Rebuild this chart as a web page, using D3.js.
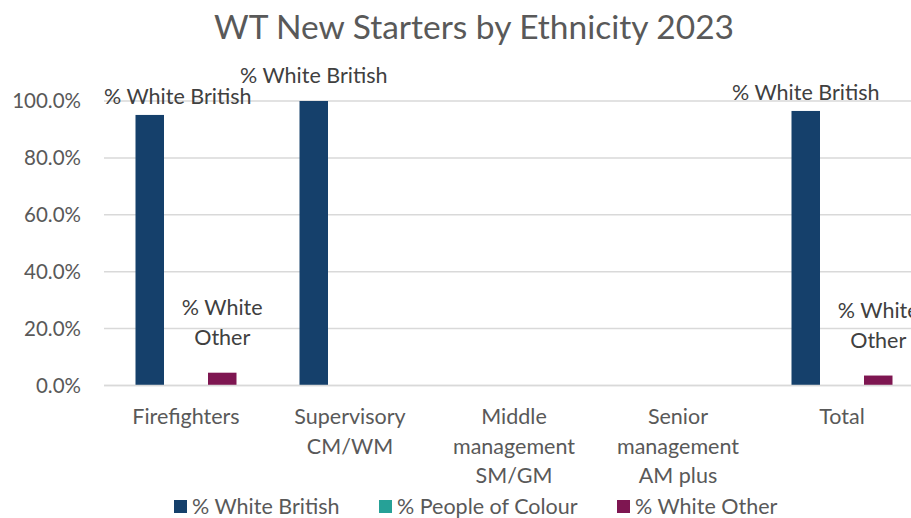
<!DOCTYPE html>
<html>
<head>
<meta charset="utf-8">
<script src="https://cdn.jsdelivr.net/npm/d3@7"></script>
<style>
  html, body { margin: 0; padding: 0; background: #fff; }
  svg { display: block; font-family: Lato, "Open Sans", sans-serif; }
</style>
</head>
<body>
<svg id="chart" width="911" height="518"></svg>
<script>
// Categories (wrapped onto lines as shown under the axis)
const categories = ["Firefighters", "Supervisory CM/WM", "Middle management SM/GM", "Senior management AM plus", "Total"];
const categoryLines = [["Firefighters"], ["Supervisory", "CM/WM"], ["Middle", "management", "SM/GM"], ["Senior", "management", "AM plus"], ["Total"]];

// Series (share of new starters); null = no starters in that group
const seriesNames = ["% White British", "% People of Colour", "% White Other"];
const whiteBritish   = [0.951, 1.000, null, null, 0.965];
const peopleOfColour = [0.000, 0.000, null, null, 0.000];
const whiteOther     = [0.045, 0.000, null, null, 0.035];
const seriesColors = ["#15406B", "#26A197", "#7E1651"];

const yTicks = [0, 0.2, 0.4, 0.6, 0.8, 1.0];
const title = "WT New Starters by Ethnicity 2023";

const seriesValues = [whiteBritish, peopleOfColour, whiteOther];

const svg = d3.select("#chart");
const plotLeft = 104, plotRight = 924, plotTop = 101, plotBottom = 385.5;

const x = d3.scaleBand().domain(categories).range([plotLeft, plotRight]).padding(0);
const xInner = d3.scaleBand().domain(seriesNames).range([-50.5, 50.5]).paddingInner(0.214);
const y = d3.scaleLinear().domain([0, 1]).range([plotBottom, plotTop]);

const textGrey = "#595959";
const labelGrey = "#404040";
const fs = 21.5;

// Title
svg.append("text")
  .attr("x", 474).attr("y", 39)
  .attr("text-anchor", "middle")
  .attr("font-size", 33.5).attr("fill", textGrey)
  .text(title);

// Gridlines
svg.append("g").selectAll("line").data(yTicks).join("line")
  .attr("x1", plotLeft).attr("x2", plotRight)
  .attr("y1", d => y(d)).attr("y2", d => y(d))
  .attr("stroke", "#D9D9D9").attr("stroke-width", 1.5);

// Y axis labels
const yAxis = d3.axisLeft(y).tickValues(yTicks).tickFormat(d3.format(".1%")).tickSize(0).tickPadding(0);
const gy = svg.append("g").attr("transform", "translate(81,0)").call(yAxis);
gy.select(".domain").remove();
gy.selectAll("text").attr("font-size", 20.5).attr("fill", textGrey).attr("font-family", "Lato, sans-serif");

// Bars
const barData = [];
categories.forEach((c, ci) => {
  seriesNames.forEach((s, si) => {
    const v = seriesValues[si][ci];
    if (v !== null) barData.push({ c, s, si, v });
  });
});

svg.append("g").selectAll("rect").data(barData).join("rect")
  .attr("x", d => x(d.c) + x.bandwidth() / 2 + xInner(d.s))
  .attr("width", xInner.bandwidth())
  .attr("y", d => y(d.v))
  .attr("height", d => plotBottom - y(d.v))
  .attr("fill", d => seriesColors[d.si]);

// Zero line drawn over bar bases
svg.append("line")
  .attr("x1", plotLeft).attr("x2", plotRight)
  .attr("y1", y(0)).attr("y2", y(0))
  .attr("stroke", "#D9D9D9").attr("stroke-width", 1.5);

// Data labels: series name above each non-zero bar
const labelGroup = svg.append("g").attr("font-size", fs).attr("fill", labelGrey);
barData.filter(d => d.v > 0).forEach(d => {
  const cx = x(d.c) + x.bandwidth() / 2 + xInner(d.s) + xInner.bandwidth() / 2;
  const top = y(d.v);
  if (d.si === 0) {
    const lift = d.v >= 1 ? 18 : 11;
    const t = labelGroup.append("text")
      .attr("x", cx).attr("y", top - lift)
      .attr("text-anchor", "middle")
      .text(d.s);
    const w = t.node().getComputedTextLength();
    if (cx - w / 2 < plotLeft) t.attr("x", plotLeft + w / 2);
  } else {
    const words = d.s.split(" ");
    const lines = [words.slice(0, 2).join(" "), words.slice(2).join(" ")];
    lines.forEach((ln, i) => {
      labelGroup.append("text")
        .attr("x", cx).attr("y", top - 28 - (lines.length - 1 - i) * 30)
        .attr("text-anchor", "middle")
        .text(ln);
    });
  }
});

// Category labels
const catGroup = svg.append("g").attr("font-size", fs).attr("fill", textGrey);
categories.forEach((c, ci) => {
  categoryLines[ci].forEach((ln, li) => {
    catGroup.append("text")
      .attr("x", x(c) + x.bandwidth() / 2)
      .attr("y", 424 + li * 29.5)
      .attr("text-anchor", "middle")
      .text(ln);
  });
});

// Legend
const legendX = [174, 379, 617];
const legend = svg.append("g").attr("font-size", fs).attr("fill", textGrey);
seriesNames.forEach((s, i) => {
  legend.append("rect")
    .attr("x", legendX[i]).attr("y", 500)
    .attr("width", 13).attr("height", 13)
    .attr("fill", seriesColors[i]);
  legend.append("text")
    .attr("x", legendX[i] + 18).attr("y", 514)
    .text(s);
});
</script>
</body>
</html>
